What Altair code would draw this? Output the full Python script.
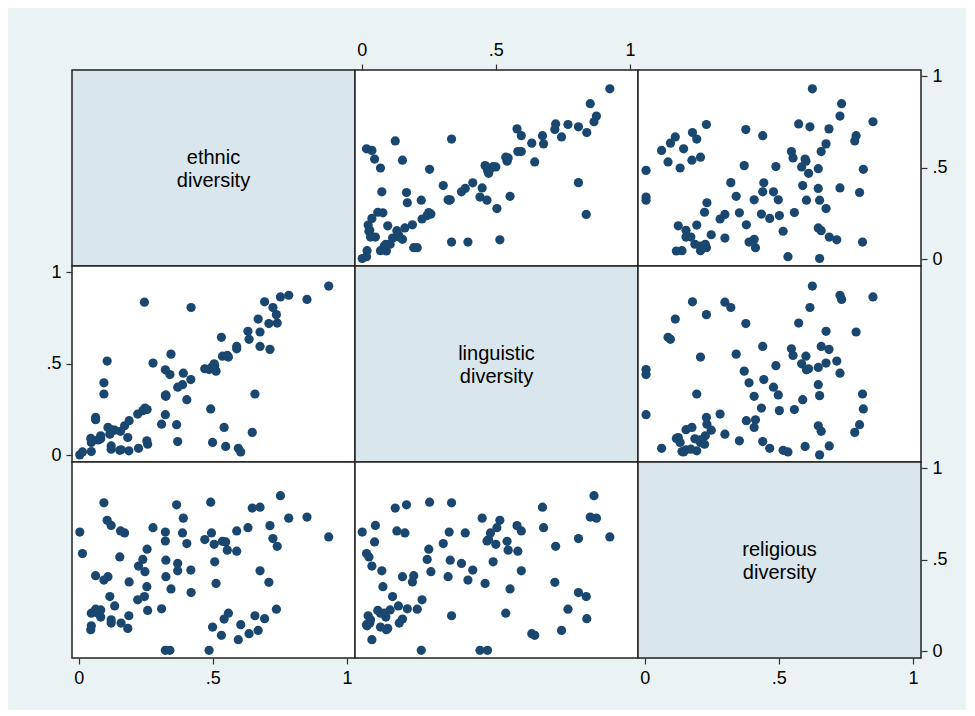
import altair as alt
import pandas as pd

ethnic = [0.004, 0.014, 0.045, 0.047, 0.047, 0.063, 0.063, 0.072, 0.082, 0.082,
          0.094, 0.094, 0.106, 0.109, 0.116, 0.121, 0.121, 0.121, 0.134, 0.153,
          0.156, 0.171, 0.158, 0.183, 0.187, 0.188, 0.220, 0.223, 0.239, 0.245,
          0.247, 0.254, 0.257, 0.255, 0.277, 0.309, 0.323, 0.340, 0.323, 0.323,
          0.325, 0.325, 0.344, 0.365, 0.369, 0.369, 0.387, 0.390, 0.403, 0.418,
          0.419, 0.470, 0.486, 0.492, 0.495, 0.499, 0.505, 0.507, 0.512, 0.532,
          0.536, 0.542, 0.548, 0.554, 0.558, 0.589, 0.589, 0.595, 0.604, 0.631,
          0.635, 0.647, 0.657, 0.669, 0.676, 0.676, 0.693, 0.709, 0.713, 0.724,
          0.737, 0.740, 0.752, 0.783, 0.851, 0.932]
linguistic = [0.002, 0.018, 0.092, 0.020, 0.070, 0.207, 0.194, 0.084, 0.106, 0.090,
              0.335, 0.396, 0.515, 0.152, 0.115, 0.051, 0.033, 0.140, 0.137, 0.027,
              0.131, 0.161, 0.030, 0.097, 0.024, 0.189, 0.225, 0.038, 0.244, 0.837,
              0.258, 0.079, 0.060, 0.250, 0.504, 0.170, 0.222, 0.441, 0.326, 0.467,
              0.330, 0.322, 0.553, 0.167, 0.372, 0.075, 0.386, 0.449, 0.304, 0.414,
              0.808, 0.473, 0.469, 0.253, 0.480, 0.070, 0.500, 0.490, 0.460, 0.645,
              0.542, 0.152, 0.048, 0.546, 0.537, 0.595, 0.582, 0.038, 0.018, 0.678,
              0.634, 0.125, 0.335, 0.745, 0.674, 0.595, 0.839, 0.720, 0.579, 0.808,
              0.769, 0.723, 0.866, 0.875, 0.852, 0.925]
religious = [0.652, 0.534, 0.118, 0.139, 0.208, 0.230, 0.413, 0.208, 0.226, 0.187,
             0.812, 0.389, 0.716, 0.408, 0.299, 0.688, 0.172, 0.154, 0.248, 0.516,
             0.658, 0.647, 0.154, 0.125, 0.194, 0.379, 0.281, 0.466, 0.502, 0.299,
             0.435, 0.353, 0.223, 0.558, 0.676, 0.232, 0.005, 0.005, 0.652, 0.603,
             0.498, 0.408, 0.341, 0.801, 0.480, 0.440, 0.647, 0.728, 0.589, 0.444,
             0.321, 0.611, 0.005, 0.815, 0.647, 0.132, 0.585, 0.489, 0.371, 0.087,
             0.601, 0.176, 0.598, 0.553, 0.208, 0.658, 0.547, 0.063, 0.145, 0.676,
             0.096, 0.783, 0.194, 0.114, 0.788, 0.440, 0.178, 0.377, 0.687, 0.616,
             0.230, 0.574, 0.851, 0.728, 0.734, 0.625]

variables = ["ethnic", "linguistic", "religious"]
var_labels = [["ethnic", "diversity"], ["linguistic", "diversity"], ["religious", "diversity"]]
tick_values = [0, 0.5, 1]

df = pd.DataFrame({"ethnic": ethnic, "linguistic": linguistic, "religious": religious})
one = pd.DataFrame({"k": [0]})

W, H = 283, 196
DOT = "#1A476F"
BG = "#EAF2F3"
DIAG = "#D9E6EB"
FONT = "Liberation Sans"
XDOM = [-0.025, 1.03]
YDOM = [-0.037, 1.035]
LABEL_EXPR = "datum.value == 0 ? '0' : (datum.value == 1 ? '1' : '.5')"


def make_axis(orient):
    return alt.Axis(orient=orient, values=tick_values, labelExpr=LABEL_EXPR,
                    tickSize=6, tickColor="#333333", tickWidth=1.2, domain=False,
                    grid=False, labelFont=FONT, labelFontSize=18, labelColor="black",
                    labelPadding=5, title=None)


def xenc(var, orient):
    return alt.X(f"{var}:Q", scale=alt.Scale(domain=XDOM, nice=False, zero=False),
                 axis=make_axis(orient) if orient else None)


def yenc(var, orient):
    return alt.Y(f"{var}:Q", scale=alt.Scale(domain=YDOM, nice=False, zero=False),
                 axis=make_axis(orient) if orient else None)


def scatter(xv, yv, xo, yo):
    return alt.Chart(df).mark_circle(size=85, color=DOT, opacity=1).encode(
        x=xenc(xv, xo), y=yenc(yv, yo)
    ).properties(width=W, height=H,
                 view=alt.ViewBackground(fill="white", stroke="#222222", strokeWidth=1.5))


def diag(i, xo=None, yo=None):
    txt = alt.Chart(one).mark_text(text=var_labels[i], font=FONT, fontSize=20,
                                   lineHeight=23, color="black", align="center",
                                   baseline="middle", dy=-10).encode(
        x=alt.value(W / 2), y=alt.value(H / 2))
    if xo or yo:
        ghost = alt.Chart(df).mark_point(opacity=0).encode(
            x=xenc(variables[i], xo), y=yenc(variables[i], yo))
        ch = alt.layer(ghost, txt)
    else:
        ch = txt
    return ch.properties(width=W, height=H,
                         view=alt.ViewBackground(fill=DIAG, stroke="#222222", strokeWidth=1.5))


axes_x = {(0, 1): "top", (2, 0): "bottom", (2, 2): "bottom"}
axes_y = {(0, 2): "right", (1, 0): "left", (2, 2): "right"}

panels = []
for r in range(3):
    for c in range(3):
        xo = axes_x.get((r, c))
        yo = axes_y.get((r, c))
        if r == c:
            panels.append(diag(r, xo, yo))
        else:
            panels.append(scatter(variables[c], variables[r], xo, yo))

chart = alt.concat(*panels, columns=3, spacing=0, bounds="flush").properties(
    background=BG,
    padding={"left": 37, "top": 32, "right": 18, "bottom": 22},
)

chart.save("out.html", embed_options={"renderer": "svg", "actions": False})
